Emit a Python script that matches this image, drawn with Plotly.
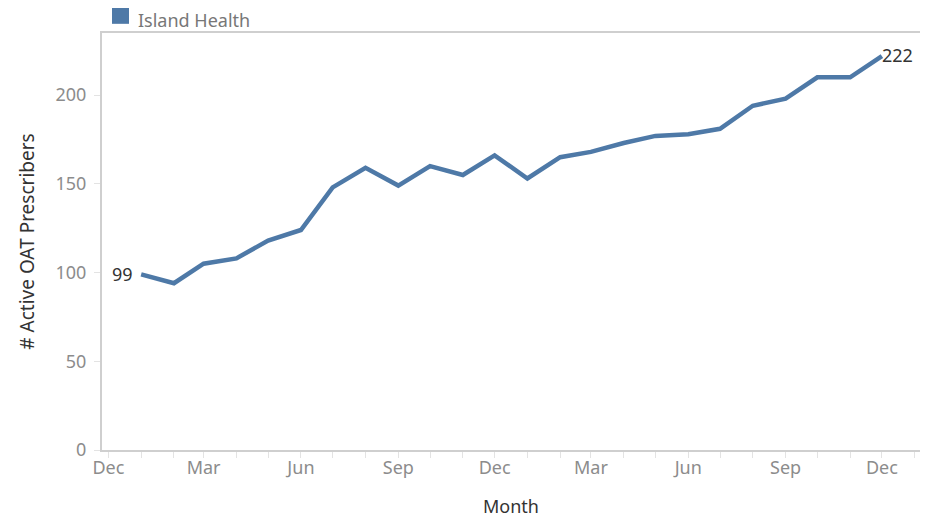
import plotly.graph_objects as go

months = ["2019-01-01", "2019-02-01", "2019-03-01", "2019-04-01", "2019-05-01", "2019-06-01",
          "2019-07-01", "2019-08-01", "2019-09-01", "2019-10-01", "2019-11-01", "2019-12-01",
          "2020-01-01", "2020-02-01", "2020-03-01", "2020-04-01", "2020-05-01", "2020-06-01",
          "2020-07-01", "2020-08-01", "2020-09-01", "2020-10-01", "2020-11-01", "2020-12-01"]
prescribers = [99, 94, 105, 108, 118, 124, 148, 159, 149, 160, 155, 166,
               153, 165, 168, 173, 177, 178, 181, 194, 198, 210, 210, 222]
series_name = "Island Health"
y_ticks = [0, 50, 100, 150, 200]

color = "#4e79a7"
font = "Noto Sans"

fig = go.Figure()
fig.add_trace(go.Scatter(x=months, y=prescribers, mode="lines", name=series_name,
                         line=dict(color=color, width=4.5), showlegend=False))

fig.add_annotation(x=months[0], y=prescribers[0], text=str(prescribers[0]), showarrow=False,
                   xanchor="right", xshift=-6, font=dict(family=font, size=18, color="#333333"))
fig.add_annotation(x=months[-1], y=prescribers[-1], text=str(prescribers[-1]), showarrow=False,
                   xanchor="left", xshift=-2, yshift=1, font=dict(family=font, size=18, color="#333333"))

# legend
fig.add_shape(type="rect", xref="paper", yref="paper", x0=10/818, x1=27/818,
              y0=1 + 9/409, y1=1 + 26/409, fillcolor=color, line=dict(width=0))
fig.add_annotation(xref="paper", yref="paper", x=35/818, y=1 + 13/409, text=series_name,
                   showarrow=False, xanchor="left", yanchor="middle", borderpad=0,
                   font=dict(family=font, size=18, color="#777777"))

fig.update_layout(
    width=920, height=510,
    margin=dict(l=94, r=8, t=25, b=68, autoexpand=False),
    paper_bgcolor="white", plot_bgcolor="white",
    font=dict(family=font, color="#888888", size=18),
)
fig.update_xaxes(
    type="date", range=["2018-11-25", "2021-01-06"],
    tickformat="%b", dtick="M3", tick0="2018-12-01",
    ticks="outside", ticklen=6, tickcolor="#e3e3e3", ticklabelstandoff=-6,
    minor=dict(dtick="M1", ticks="outside", ticklen=6, tickcolor="#e3e3e3", showgrid=False),
    showgrid=False, zeroline=False,
    showline=True, linecolor="#cfcfcf", linewidth=2, mirror=True,
    tickfont=dict(family=font, size=18, color="#8c8c8c"),
    title=dict(text="Month", font=dict(family=font, size=18, color="#333333"), standoff=26),
)
fig.update_yaxes(
    range=[0, 235], tickvals=y_ticks,
    ticks="outside", ticklen=6, tickcolor="#e3e3e3", ticklabelstandoff=4,
    showgrid=False, zeroline=False,
    showline=True, linecolor="#cfcfcf", linewidth=2, mirror=True,
    tickfont=dict(family=font, size=18, color="#8c8c8c"),
    title=dict(text="# Active OAT Prescribers", font=dict(family=font, size=19, color="#333333"), standoff=16),
)

fig.write_html("out.html")
